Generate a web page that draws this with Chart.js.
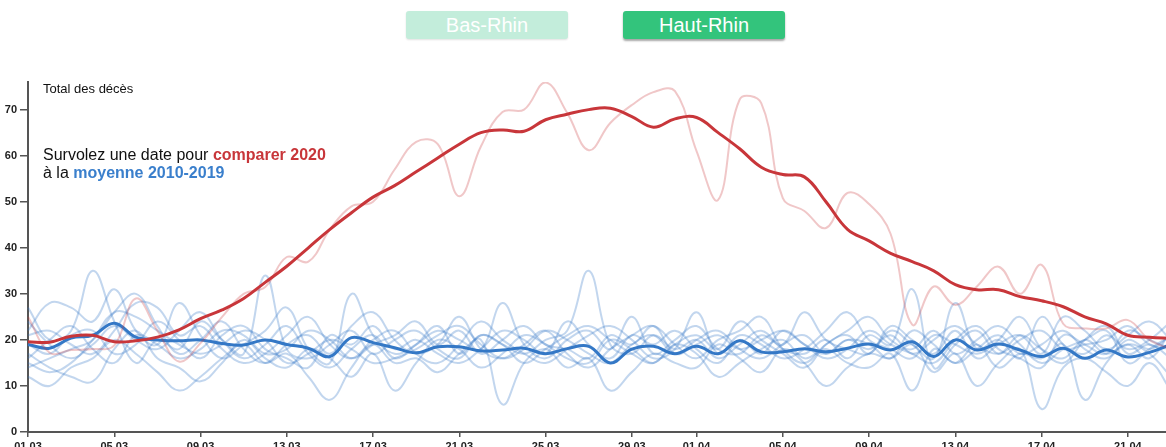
<!DOCTYPE html>
<html lang="fr">
<head>
<meta charset="utf-8">
<title>Décès Haut-Rhin</title>
<script src="https://cdn.jsdelivr.net/npm/chart.js@4"></script>
<style>
  html, body { margin: 0; padding: 0; background: #fff; overflow: hidden; width: 1166px; height: 447px; }
  body { position: relative; font-family: "Liberation Sans", Arial, sans-serif; }
  .btn {
    position: absolute; top: 11px; width: 162px; height: 28px; line-height: 28px;
    text-align: center; color: #fff; font-size: 20px; border-radius: 3px;
  }
  #bas { left: 406px; background: #c3eddb; box-shadow: 0 1px 2px rgba(0,0,0,0.12); }
  #haut { left: 623px; background: #33c47c; box-shadow: 0 2px 2px rgba(0,0,0,0.35); }
  #wrap { position: absolute; left: 0; top: 60px; width: 1172px; height: 400px; }
  .note { position: absolute; left: 43px; color: #111; }
  #ytitle { top: 81px; font-size: 13px; }
  #hint { top: 146px; font-size: 16px; line-height: 18px; }
  .red { color: #c8363a; font-weight: bold; }
  .blue { color: #3a7fcc; font-weight: bold; }
</style>
</head>
<body>
<div class="btn" id="bas">Bas-Rhin</div>
<div class="btn" id="haut">Haut-Rhin</div>
<div id="wrap"><canvas id="deathsChart" width="1171" height="400"></canvas></div>
<div class="note" id="ytitle">Total des décès</div>
<div class="note" id="hint">Survolez une date pour <span class="red">comparer 2020</span><br>à la <span class="blue">moyenne 2010-2019</span></div>

<script>
// Dates du 01.03 au 23.04
const dates = [
  "01.03","02.03","03.03","04.03","05.03","06.03","07.03","08.03","09.03","10.03",
  "11.03","12.03","13.03","14.03","15.03","16.03","17.03","18.03","19.03","20.03",
  "21.03","22.03","23.03","24.03","25.03","26.03","27.03","28.03","29.03","30.03",
  "31.03","01.04","02.04","03.04","04.04","05.04","06.04","07.04","08.04","09.04",
  "10.04","11.04","12.04","13.04","14.04","15.04","16.04","17.04","18.04","19.04",
  "20.04","21.04","22.04","23.04"
];
const tickLabels = ["01.03","05.03","09.03","13.03","17.03","21.03","25.03","29.03","01.04","05.04","09.04","13.04","17.04","21.04"];

// 2020, valeurs brutes et lissées
const raw2020 = [25,17.2,17.8,18,18.8,29,22,15.3,19.3,25,30,31.5,38,37,44,49,50,57,63,62.5,
  51.2,62,69.5,70,75.9,69.3,61.2,67.1,71,73.8,74,61,50.4,72.2,71.4,50.8,48,44.3,51.9,49.5,
  43,23.3,31.6,27.6,31.6,35.9,30,36.3,23.5,22.5,22.5,24.3,20,18];
const smooth2020 = [19.6,19.5,20.8,21,19.6,19.8,20.6,22.2,24.6,26.5,29,32.5,36,40,44,47.6,51,53.5,56.5,59.5,
  62.5,65,65.6,65.3,67.8,69,70,70.3,68.5,66.2,68,68.3,65,61.5,57.5,55.9,55.4,50,44,41.5,
  38.8,37,35,32,30.9,30.9,29.4,28.5,27.2,25,23.5,21,20.6,20.3];

// Moyenne 2010-2019
const mean = [19,18.2,20.4,21,23.6,20.6,20,19.8,20,19.2,18.9,20,19,18.2,16.4,20.5,19.4,18.3,17.2,18.5,
  18.5,17.6,17.8,18.2,17,18.1,18.6,15,18,18.6,17,18.6,17,19.8,17.4,17.4,18.1,17.4,18.2,19.1,
  17.8,19.6,16.4,20,17.8,19.1,17.8,16.4,18.2,16,17.8,16.3,17.3,19];

// Années 2010 à 2019
const y2010 = [27,20,22,35,24,15,20,18,24,20,17,34,18,16,19,22,17,20,22,18,16,21,19,17,20,22,35,19,17,21,18,20,16,19,22,18,17,20,16,21,19,31,14,19,22,17,21,18,16,20,17,19,16,22];
const y2011 = [22,28,27,24,31,22,19,28,21,16,19,22,27,18,15,30,21,17,19,22,20,18,28,19,16,20,22,18,25,17,20,23,18,17,21,19,26,20,18,17,22,19,16,28,18,20,16,25,19,17,21,18,20,24];
const y2012 = [12,10,14,16,20,17,13,9,12,16,19,15,17,12,7,14,19,15,16,13,17,20,6,15,18,14,16,9,13,17,15,14,19,16,13,18,15,10,14,17,16,19,13,17,10,15,18,5,14,16,13,10,15,9];
const y2013 = [17,14,12,11,18,22,16,14,11,15,20,16,14,18,16,12,17,9,15,20,18,14,17,21,19,16,15,20,18,15,19,17,12,15,18,20,16,18,15,14,17,9,18,15,19,14,17,16,19,7,15,19,17,12];
const y2014 = [15,13,15,20,26,25,22,19,17,19,22,20,15,17,20,18,15,16,18,21,23,19,16,18,22,20,17,15,19,21,17,20,22,18,16,19,21,17,20,19,16,22,19,15,18,21,17,19,22,18,16,20,18,21];
const y2015 = [21,22,19,17,22,28,27,21,23,18,15,17,21,25,19,16,20,22,17,15,19,24,20,17,15,18,21,23,20,16,18,26,17,21,19,16,18,22,26,20,18,16,21,19,17,20,25,18,15,20,23,17,19,16];
const y2016 = [19,17,21,22,17,19,24,20,16,21,23,18,16,14,21,19,23,18,20,17,15,18,22,20,17,24,19,16,21,19,22,18,15,20,17,22,19,16,18,22,19,17,15,20,23,18,16,14,21,19,17,22,20,18];
const y2017 = [14,16,18,20,26,30,23,17,20,24,18,15,19,21,17,23,26,20,17,19,25,18,16,19,22,17,14,18,21,23,19,16,20,22,25,18,15,19,21,17,23,20,17,22,16,19,21,17,25,22,18,21,24,20];
const y2018 = [24,19,16,19,23,20,18,22,26,20,16,19,23,17,14,18,21,16,19,23,17,21,19,15,18,21,23,20,17,15,19,21,18,24,20,17,14,19,22,25,20,18,22,17,20,23,19,15,18,20,22,15,18,21];
const y2019 = [16,20,23,18,15,21,19,16,18,22,21,17,18,22,20,16,19,21,24,19,22,17,20,23,19,18,16,21,19,23,17,19,21,18,20,22,19,17,20,18,21,17,20,23,19,17,20,22,18,19,20,23,19,18];

const pastYears = [y2010, y2011, y2012, y2013, y2014, y2015, y2016, y2017, y2018, y2019];

const RED = "#c8363a";
const BLUE = "#3478c6";

function line(data, color, width) {
  return {
    data,
    borderColor: color,
    borderWidth: width,
    pointRadius: 0,
    tension: 0.4,
    fill: false
  };
}

// index 0 is drawn last, so on top
const datasets = [
  line(smooth2020, RED, 3),
  line(raw2020, "rgba(200,54,58,0.28)", 2),
  line(mean, BLUE, 3),
  ...pastYears.map(y => line(y, "rgba(52,120,198,0.3)", 2))
];

new Chart(document.getElementById("deathsChart"), {
  type: "line",
  data: { labels: dates, datasets },
  options: {
    responsive: false,
    animation: false,
    devicePixelRatio: 1,
    layout: { padding: { top: 22, right: 0, left: 0, bottom: 0 } },
    plugins: {
      legend: { display: false },
      tooltip: { enabled: false }
    },
    scales: {
      x: {
        type: "category",
        offset: false,
        afterBuildTicks: scale => {
          scale.ticks = scale.ticks.filter(t => tickLabels.includes(dates[t.value]));
        },
        afterFit: scale => { scale.height = 28; },
        ticks: {
          autoSkip: false,
          maxRotation: 0,
          padding: 3,
          color: "#222",
          font: { family: "Liberation Sans", size: 11, weight: "bold" },
          callback: (v) => dates[v]
        },
        grid: { drawOnChartArea: false, drawTicks: true, tickLength: 5, color: "#555", lineWidth: 1.5 },
        border: { color: "#555", width: 2 }
      },
      y: {
        min: 0,
        max: 76,
        afterFit: scale => { scale.width = 28; },
        ticks: {
          stepSize: 10,
          includeBounds: false,
          padding: 3,
          color: "#222",
          font: { family: "Liberation Sans", size: 11, weight: "bold" }
        },
        grid: { drawOnChartArea: false, drawTicks: true, tickLength: 8, color: "#555", lineWidth: 1.5 },
        border: { color: "#555", width: 2 }
      }
    }
  }
});
</script>
</body>
</html>
